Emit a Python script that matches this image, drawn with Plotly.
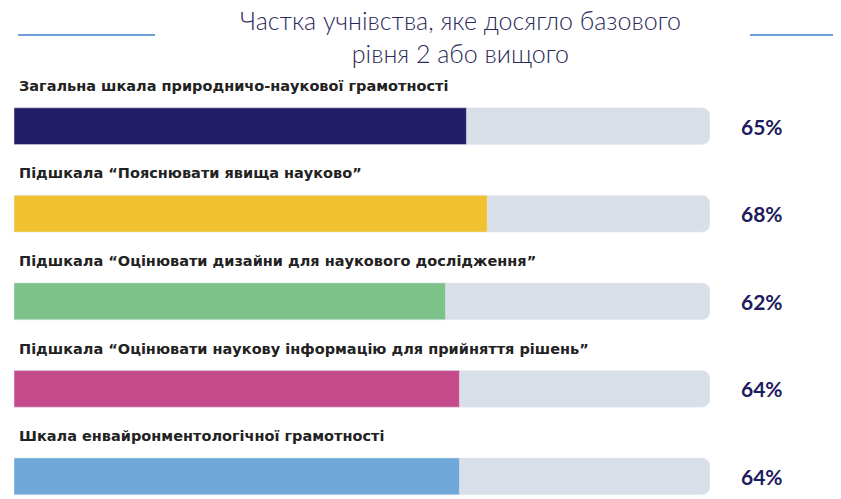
import plotly.graph_objects as go

labels = [
    "Загальна шкала природничо-наукової грамотності",
    "Підшкала “Пояснювати явища науково”",
    "Підшкала “Оцінювати дизайни для наукового дослідження”",
    "Підшкала “Оцінювати наукову інформацію для прийняття рішень”",
    "Шкала енвайронментологічної грамотності",
]
values = [65, 68, 62, 64, 64]
colors = ["#221d66", "#f0c232", "#7cc28a", "#c54b8d", "#6fa8d8"]
pos = [0, 1, 2, 3, 4]

fig = go.Figure()
fig.add_trace(go.Bar(y=pos, x=[100] * len(pos), orientation="h", width=0.42,
                     marker=dict(color="#d9dfe8", cornerradius=8), hoverinfo="skip"))
fig.add_trace(go.Bar(y=pos, x=values, orientation="h", width=0.42,
                     marker=dict(color=colors, cornerradius=8)))

for p, lab, v in zip(pos, labels, values):
    fig.add_annotation(x=0.5, y=p - 0.46, text="<b>" + lab + "</b>", showarrow=False,
                       xanchor="left", yanchor="middle",
                       font=dict(size=14.5, color="#222222", family="DejaVu Sans"))
    fig.add_annotation(x=1.075, y=p, xref="paper", text="<b>%d%%</b>" % v, showarrow=False,
                       xanchor="center", yanchor="middle",
                       font=dict(size=21, color="#1e1b5e", family="Lato"))

fig.add_annotation(x=0.641, y=1 - 28 / 499, xref="paper", yref="paper",
                   text="Частка учнівства, яке досягло базового<br>рівня 2 або вищого",
                   showarrow=False, xanchor="center", yanchor="middle",
                   font=dict(size=25, color="#2a2a5a", family="Lato", weight=300))
for x0, x1 in [(18, 155), (750, 833)]:
    fig.add_shape(type="line", xref="paper", yref="paper",
                  x0=(x0 - 14) / 696, x1=(x1 - 14) / 696,
                  y0=1 - 27 / 499, y1=1 - 27 / 499,
                  line=dict(color="#6fa0d8", width=2))

fig.update_layout(
    width=841, height=499, barmode="overlay", showlegend=False,
    margin=dict(l=6, r=139, t=0, b=0),
    plot_bgcolor="white", paper_bgcolor="white",
    xaxis=dict(range=[0, 100], visible=False, fixedrange=True),
    yaxis=dict(range=[4.35, -1.35], visible=False),
)
fig.write_html("out.html")
